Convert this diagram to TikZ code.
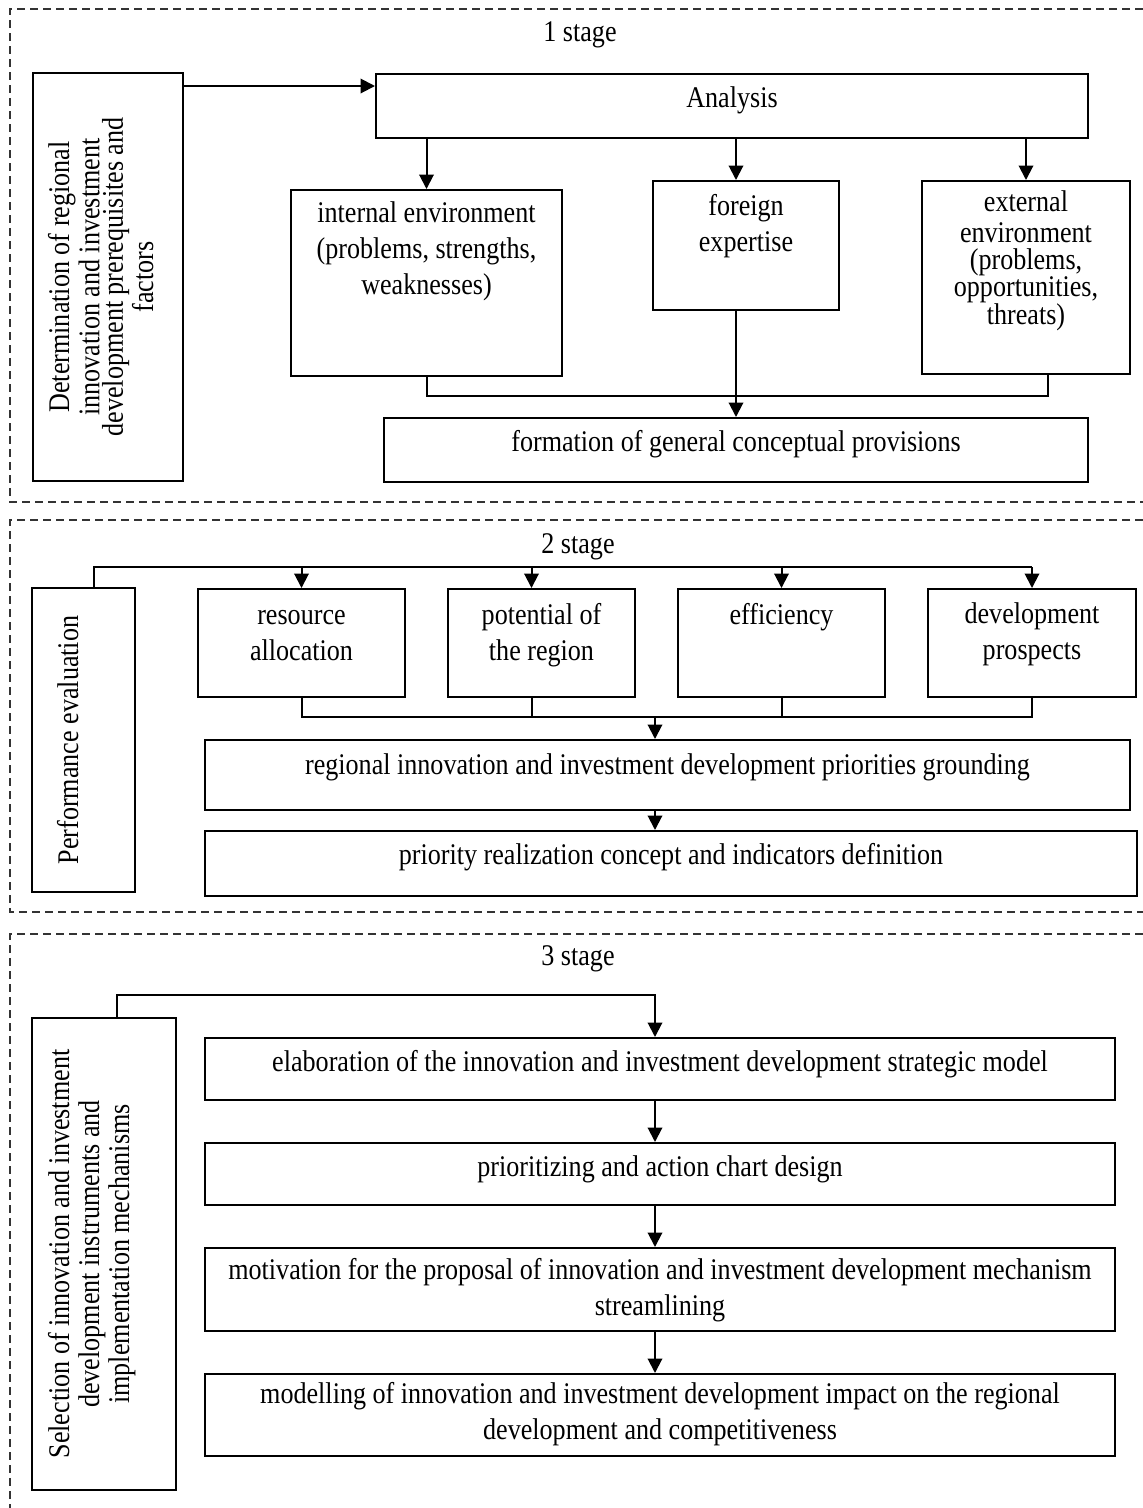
\documentclass[tikz,border=0pt]{standalone}
\usepackage{fontspec}
\setmainfont[FakeStretch=0.87]{Liberation Serif}
\usetikzlibrary{positioning,arrows.meta}

\newlength{\px}\setlength{\px}{0.4pt}
\newcommand{\boxtext}[4]{\parbox[c][#2\px][t]{#1\px}{\centering\vspace*{#3\px}\strut#4\par}}
\newcommand{\tightfont}{\fontsize{12pt}{9.4pt}\selectfont\setlength{\lineskiplimit}{-10pt}}

\tikzstyle{box}=[rectangle,
    thick,
    draw=black,
    inner sep=0pt,
    anchor=north west]
\tikzstyle{sidebox}=[rectangle,
    thick,
    draw=black,
    inner sep=0pt,
    rotate=90]
\tikzstyle{frame}=[draw=black!80, line width=0.5pt, dash pattern=on 3.2pt off 2pt]
\tikzstyle{line}=[draw, thick]
\tikzset{>={Triangle[length=5.8pt,width=5.8pt]}}

\begin{document}
\begin{tikzpicture}[x=0.4pt, y=-0.4pt, font=\fontsize{12pt}{14.4pt}\selectfont]
            \useasboundingbox (0,0) rectangle (1143,1508);

            \draw [frame] (1143,9) -| (10,502) -- (1143,502);
            \draw [frame] (1143,520) -| (10,912) -- (1143,912);
            \draw [frame] (1143,934) -| (10,1508);

            \node (stage1) at (580,35) {1 stage};
            \node (stage2) at (578,547) {2 stage};
            \node (stage3) at (578,959) {3 stage};

            \node (prereq) [sidebox, font=\tightfont] at (108,277)
                {\boxtext{408}{150}{15}{Determination of regional\\innovation and investment\\development prerequisites and\\factors}};
            \node (ana) [box] at (375,73) {\boxtext{712}{64}{8.5}{Analysis}};
            \node (intenv) [box] at (290,189) {\boxtext{271}{186}{7.5}{internal environment\\(problems, strengths,\\weaknesses)}};
            \node (foreign) [box] at (652,180) {\boxtext{186}{129}{9.5}{foreign\\expertise}};
            \node (extenv) [box, font=\fontsize{12pt}{10.9pt}\selectfont] at (921,180)
                {\boxtext{208}{193}{10}{external\\environment\\(problems,\\opportunities,\\threats)}};
            \node (concept) [box] at (383,417) {\boxtext{704}{64}{8.5}{formation of general conceptual provisions}};

            \coordinate (a1) at (0,86);
            \coordinate (fx) at ([xshift=-4pt]foreign.north);
            \coordinate (ex) at ([xshift=8.8pt]extenv.south);
            \coordinate (j1) at (0,396);
            \draw [line,->] (a1 -| prereq.south) -- (a1 -| ana.west);
            \draw [line,->] (intenv.north |- ana.south) -- (intenv.north);
            \draw [line,->] (fx |- ana.south) -- (fx);
            \draw [line,->] (extenv.north |- ana.south) -- (extenv.north);
            \draw [line] (intenv.south) -- (intenv.south |- j1) -- (ex |- j1) -- (ex);
            \draw [line,->] (fx |- foreign.south) -- (fx |- concept.north);

            \node (perf) [sidebox] at (83.5,740) {\boxtext{304}{103}{21}{Performance evaluation}};
            \node (res) [box] at (197,588) {\boxtext{207}{108}{10}{resource\\allocation}};
            \node (pot) [box, right=16.4pt of res] {\boxtext{187}{108}{10}{potential of\\the region}};
            \node (eff) [box, right=16.4pt of pot] {\boxtext{207}{108}{10}{efficiency}};
            \node (dev) [box, right=16.4pt of eff] {\boxtext{208}{108}{9}{development\\prospects}};
            \node (prio) [box] at (204,739) {\boxtext{925}{70}{9.5}{regional innovation and investment development priorities grounding}};
            \node (indic) [box] at (204,830) {\boxtext{932}{65}{8.5}{priority realization concept and indicators definition}};

            \coordinate (t2) at (0,567);
            \coordinate (b2) at (0,717);
            \coordinate (pe) at ([xshift=4pt]perf.east);
            \coordinate (potx) at ([xshift=-4pt]pot.north);
            \coordinate (axis) at (655,0);
            \draw [line] (pe) -- (pe |- t2) -- (dev.north |- t2);
            \draw [line,->] (res.north |- t2) -- (res.north);
            \draw [line,->] (potx |- t2) -- (potx);
            \draw [line,->] (eff.north |- t2) -- (eff.north);
            \draw [line,->] (dev.north |- t2) -- (dev.north);
            \draw [line] (res.south) -- (res.south |- b2) -- (dev.south |- b2) -- (dev.south);
            \draw [line] (potx |- pot.south) -- (potx |- b2);
            \draw [line] (eff.south) -- (eff.south |- b2);
            \draw [line,->] (axis |- b2) -- (axis |- prio.north);
            \draw [line,->] (axis |- prio.south) -- (axis |- indic.north);

            \node (select) [sidebox, font=\fontsize{12pt}{12pt}\selectfont] at (104,1254)
                {\boxtext{472}{144}{16}{Selection of innovation and investment\\development instruments and\\implementation mechanisms}};
            \node (model) [box] at (204,1037) {\boxtext{910}{62}{8.5}{elaboration of the innovation and investment development strategic model}};
            \node (chart) [box, below=16.4pt of model] {\boxtext{910}{62}{8.5}{prioritizing and action chart design}};
            \node (motiv) [box, below=16.4pt of chart] {\boxtext{910}{83}{6.5}{motivation for the proposal of innovation and investment development mechanism\\streamlining}};
            \node (impact) [box, below=16.4pt of motiv] {\boxtext{910}{82}{4}{modelling of innovation and investment development impact on the regional\\development and competitiveness}};

            \coordinate (t3) at (0,995);
            \coordinate (se) at ([xshift=5.2pt]select.east);
            \draw [line,->] (se) -- (se |- t3) -- (axis |- t3) -- (axis |- model.north);
            \draw [line,->] (axis |- model.south) -- (axis |- chart.north);
            \draw [line,->] (axis |- chart.south) -- (axis |- motiv.north);
            \draw [line,->] (axis |- motiv.south) -- (axis |- impact.north);

        \end{tikzpicture}
\end{document}
